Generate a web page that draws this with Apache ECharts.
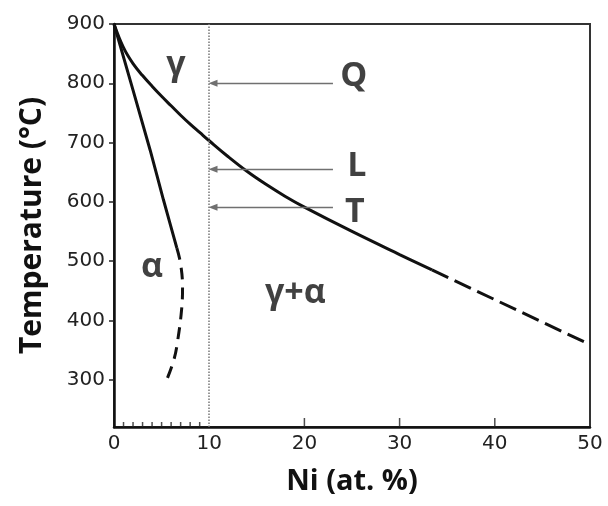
<!DOCTYPE html>
<html><head><meta charset="utf-8">
<script src="https://cdn.jsdelivr.net/npm/echarts@6/dist/echarts.min.js"></script>
<style>html,body{margin:0;padding:0;background:#fff}#c{width:608px;height:506px}</style>
</head><body><div id="c"></div>
<script>
// Boundary curves (x = Ni at.%, T = °C)
const upperSolidX = [0, 1, 2, 3, 4, 5, 6, 7, 8, 9, 10, 12, 14, 16, 18, 20, 25, 30, 33.4];
const upperSolidT = [900, 860, 833, 813, 795, 778, 762, 746, 731, 717, 703, 676, 651, 629, 609, 591, 550, 511, 485];
const upperDashX = [33.4, 50];
const upperDashT = [485, 359];
const alphaSolidX = [0, 3.8, 5.2, 6.6];
const alphaSolidT = [900, 687, 603, 522];
const alphaDashX = [6.6, 7.0, 7.2, 7.1, 6.7, 6.3, 5.5];
const alphaDashT = [522, 495, 455, 418, 367, 334, 298];
// Annotations
const labelText = ['γ', 'Q', 'L', 'T', 'α', 'γ+α'];
const labelX = [6.5, 25.2, 25.5, 25.3, 4.0, 19.05];
const labelT = [830, 812, 660, 583, 489, 445];
const arrowFromX = 23.0;
const arrowToX = 10.4;
const arrowT = [800, 655, 591];
const dottedX = 10;
// Axis ticks
const xMajorTicks = [20, 30, 40];
const xMinorTicks = [1, 2, 3, 4, 5, 6, 7, 8, 9];
const yTicks = [300, 400, 500, 600, 700, 800, 900];

const zip = (a, b) => a.map((v, i) => [v, b[i]]);
const chart = echarts.init(document.getElementById('c'));
const font = 'Open Sans';
const tickFont = 'DejaVu Sans';
const curve = (x, t, type, smooth) => ({
  type: 'line', data: zip(x, t), symbol: 'none', smooth: smooth, silent: true,
  lineStyle: { color: '#111', width: 3, type: type }
});
const yMin = 220;
const tickMarks = (vals, len) => ({
  type: 'scatter', silent: true, data: vals.map(v => [v, yMin]),
  symbol: 'rect', symbolSize: [1.5, len], symbolOffset: [0, -len / 2],
  itemStyle: { color: '#222' }
});
chart.setOption({
  animation: false,
  grid: { left: 114, right: 18, top: 24, bottom: 79, show: true, borderColor: '#333', borderWidth: 2 },
  xAxis: {
    type: 'value', min: 0, max: 50, interval: 10,
    axisLine: { show: true, lineStyle: { color: '#111', width: 2.5 } },
    axisTick: { show: false },
    axisLabel: { fontSize: 20, color: '#222', fontFamily: tickFont, margin: 7 },
    splitLine: { show: false },
    name: 'Ni (at. %)', nameLocation: 'middle', nameGap: 40,
    nameTextStyle: { fontSize: 29, fontWeight: 'bold', fontFamily: font, color: '#111' }
  },
  yAxis: {
    type: 'value', min: yMin, max: 900,
    axisLine: { show: true, lineStyle: { color: '#111', width: 2.5 } },
    axisTick: { show: true, inside: false, length: 5, customValues: yTicks, lineStyle: { color: '#222', width: 1.5 } },
    axisLabel: { customValues: yTicks, fontSize: 20, color: '#222', fontFamily: tickFont, margin: 9 },
    splitLine: { show: false },
    name: 'Temperature (°C)', nameLocation: 'middle', nameGap: 67, nameRotate: 90,
    nameTextStyle: { fontSize: 30, fontWeight: 'bold', fontFamily: font, color: '#111' }
  },
  series: [
    curve(upperSolidX, upperSolidT, 'solid', 0.4),
    curve(upperDashX, upperDashT, [18, 7], false),
    curve(alphaSolidX, alphaSolidT, 'solid', 0.2),
    curve(alphaDashX, alphaDashT, [12, 8], 0.4),
    tickMarks(xMinorTicks, 5),
    tickMarks(xMajorTicks, 9),
    {
      type: 'line', data: [], silent: true,
      markLine: {
        silent: true, symbol: ['none', 'none'], label: { show: false },
        lineStyle: { type: 'dotted', color: '#777', width: 1.5 },
        data: [{ xAxis: dottedX }]
      }
    },
    {
      type: 'line', data: [], silent: true,
      markLine: {
        silent: true, symbol: ['none', 'triangle'], symbolSize: [7, 9], label: { show: false },
        lineStyle: { type: 'solid', color: '#707070', width: 1.4 },
        data: arrowT.map(t => [{ coord: [arrowFromX, t] }, { coord: [arrowToX, t] }])
      }
    },
    {
      type: 'scatter', silent: true, data: zip(labelX, labelT), symbolSize: 1,
      itemStyle: { color: 'rgba(0,0,0,0)' },
      label: {
        show: true, position: 'inside', formatter: p => labelText[p.dataIndex],
        fontSize: 34, fontWeight: 'bold', color: '#111', fontFamily: font
      }
    }
  ]
});
</script></body></html>
